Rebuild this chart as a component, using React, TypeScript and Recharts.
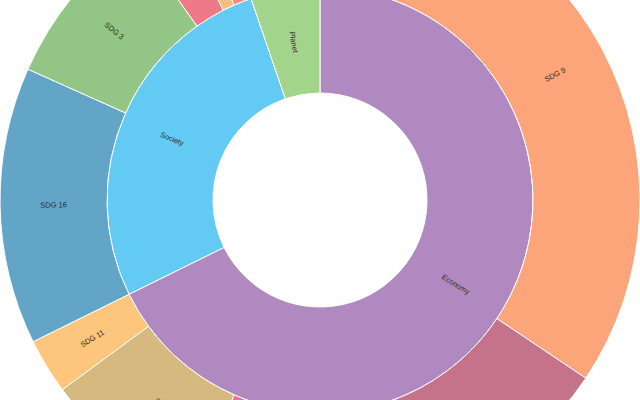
import { PieChart, Pie, Cell } from "recharts";

const groups = ["Economy", "Society", "Planet"];
const groupShares = [67.7, 27.05, 5.25];

const goals = ["SDG 9", "SDG 12", "SDG 17", "SDG 8", "SDG 11", "SDG 16", "SDG 3", "SDG 4", "SDG 5", "SDG 10", "SDG 13"];
const goalShares = [34.4, 17.8, 4.4, 8.3, 2.8, 14.0, 8.5, 2.3, 0.9, 1.35, 5.25];

const GROUP_COLORS = ["#b189c1", "#62caf3", "#a3d48b"];
const GOAL_COLORS = ["#fca57b", "#c5738b", "#e8729a", "#d6b97f", "#fec57c", "#63a5c6", "#93c586", "#ef7a87", "#f1c07d", "#f58a7f", "#9fd08a"];

const W = 640;
const H = 400;
const RAD = Math.PI / 180;

const innerData = groups.map((name, i) => ({ name, value: groupShares[i] }));
const outerData = goals.map((name, i) => ({ name, value: goalShares[i] }));

// radial label, flipped so it never reads upside down
function RadialLabel(props: any) {
  const { cx, cy, midAngle, innerRadius, outerRadius, name } = props;
  const r = (innerRadius + outerRadius) / 2;
  const x = cx + r * Math.cos(-midAngle * RAD);
  const y = cy + r * Math.sin(-midAngle * RAD);
  // label falls completely outside the frame -> nothing to draw
  if (y - 12 > H || y + 12 < 0 || x - 12 > W || x + 12 < 0) return null;
  let rot = -midAngle;
  while (rot > 180) rot -= 360;
  while (rot <= -180) rot += 360;
  if (rot > 90) rot -= 180;
  if (rot < -90) rot += 180;
  return (
    <text
      x={x}
      y={y}
      transform={`rotate(${rot} ${x} ${y})`}
      textAnchor="middle"
      dominantBaseline="central"
      fill="#2b2b2b"
      fontSize={7.5}
      fontFamily="'Liberation Sans', Arial, sans-serif"
    >
      {name}
    </text>
  );
}

export default function App() {
  return (
    <div style={{ position: "absolute", left: 0, top: 0, width: W, height: H, overflow: "hidden", background: "#fff" }}>
      <PieChart width={W} height={H} margin={{ top: 0, right: 0, bottom: 0, left: 0 }}>
        <Pie
          data={innerData}
          dataKey="value"
          nameKey="name"
          cx={320}
          cy={200}
          innerRadius={107}
          outerRadius={213}
          startAngle={90}
          endAngle={-270}
          stroke="#fff"
          strokeWidth={1}
          label={RadialLabel}
          labelLine={false}
          isAnimationActive={false}
        >
          {innerData.map((d, i) => (
            <Cell key={`g-${d.name}`} fill={GROUP_COLORS[i % GROUP_COLORS.length]} />
          ))}
        </Pie>
        <Pie
          data={outerData}
          dataKey="value"
          nameKey="name"
          cx={320}
          cy={200}
          innerRadius={213}
          outerRadius={320}
          startAngle={90}
          endAngle={-270}
          stroke="#fff"
          strokeWidth={1}
          label={RadialLabel}
          labelLine={false}
          isAnimationActive={false}
        >
          {outerData.map((d, i) => (
            <Cell key={`s-${d.name}`} fill={GOAL_COLORS[i % GOAL_COLORS.length]} />
          ))}
        </Pie>
      </PieChart>
    </div>
  );
}
